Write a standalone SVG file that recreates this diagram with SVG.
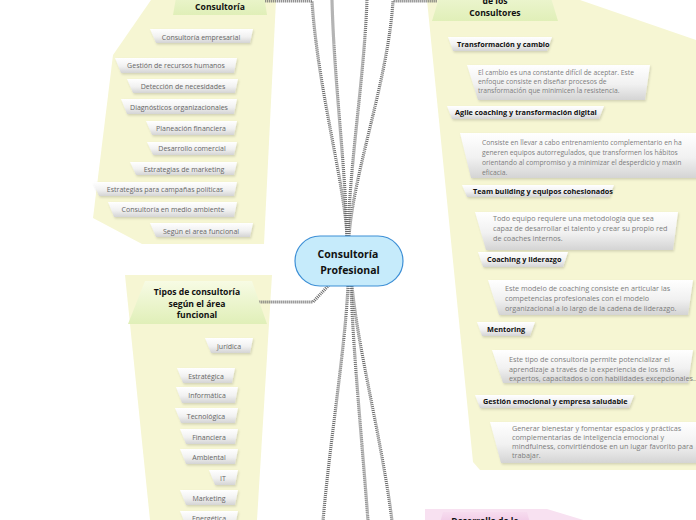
<svg xmlns="http://www.w3.org/2000/svg" width="696" height="520" viewBox="0 0 696 520">
<defs>
<linearGradient id="leafG" x1="0" y1="0" x2="0" y2="1"><stop offset="0" stop-color="#ffffff"/><stop offset="0.55" stop-color="#f1f1f1"/><stop offset="1" stop-color="#d4d4d4"/></linearGradient>
<linearGradient id="greenG" x1="0" y1="0" x2="0" y2="1"><stop offset="0" stop-color="#f7fbe4"/><stop offset="1" stop-color="#e0efb8"/></linearGradient>
<linearGradient id="pinkG" x1="0" y1="0" x2="0" y2="1"><stop offset="0" stop-color="#f7dcef"/><stop offset="1" stop-color="#ecc0e0"/></linearGradient>
<filter id="sh" x="-10%" y="-20%" width="120%" height="150%"><feDropShadow dx="1" dy="1.5" stdDeviation="0.8" flood-color="#000" flood-opacity="0.15"/></filter>
</defs>
<style>
.panel{fill:#f6f6d3}
.pink{fill:#f8e1f1}
.leaf{fill:url(#leafG);filter:url(#sh)}
.hdr{fill:url(#greenG)}
.lt{font-family:"Open Sans","Noto Sans",sans-serif;font-size:7px;fill:#666;text-anchor:middle}
.rh{font-family:"Open Sans","Noto Sans",sans-serif;font-size:7.3px;font-weight:bold;fill:#111}
.dt{font-family:"Open Sans","Noto Sans",sans-serif;font-size:6.75px;fill:#7d7d7d}
.dt2{font-family:"Open Sans","Noto Sans",sans-serif;font-size:7.25px;fill:#7d7d7d}
.ht{font-family:"Open Sans","Noto Sans",sans-serif;font-size:8.6px;font-weight:bold;fill:#111;text-anchor:middle}
.ct{font-family:"Open Sans","Noto Sans",sans-serif;font-size:10.5px;font-weight:bold;fill:#111;text-anchor:middle}
.con{fill:none;stroke:#6a6a6a;stroke-width:3.2;stroke-dasharray:1 1}
</style>

<!-- panels -->
<polygon class="panel" points="151,0 276,0 264,244 142,244 93,218 113,55"/>
<polygon class="panel" points="125,275 272,275 257,520 150,520"/>
<polygon class="panel" points="427,0 580,0 696,40 696,470 480,470 473,462"/>
<polygon class="pink" points="425,509 547,509 590,522 425,522"/>

<!-- connectors -->
<g id="connectors">
<path class="con" d="M347,236 C344,180 318,90 312,1 L265,1"/>
<path class="con" d="M347,236 C345,160 334,80 332,0"/>
<path class="con" d="M348,236 C350,160 364,80 367,0"/>
<path class="con" d="M349,236 C354,170 388,80 393,1 L437,1"/>
<path class="con" d="M329,285 L313,302 L258,302"/>
<path class="con" d="M348,286 C345,350 330,440 323,521"/>
<path class="con" d="M351,286 C353,350 362,440 368,521"/>
<path class="con" d="M352,286 C358,350 382,440 392,521"/>
</g>

<!-- central -->
<g id="center">
<rect x="295" y="236" width="108" height="50" rx="25" fill="#c6ebfb" stroke="#3d8fd6" stroke-width="1.2"/>
<text class="ct" x="348" y="258">Consultoría</text>
<text class="ct" x="350" y="274">Profesional</text>
</g>

<!-- left top branch -->
<g id="consultoria">
<polygon class="hdr" points="180,-25 261,-25 267,15 173,15"/>
<text class="ht" x="220" y="9.5">Consultoría</text>
</g>
<g id="l1"><polygon class="leaf" points="150,29 253,29 250,43 156,43"/><text class="lt" x="201" y="39.5">Consultoría empresarial</text></g>
<g id="l2"><polygon class="leaf" points="115,58 237,58 234,73 121,73"/><text class="lt" x="176" y="68">Gestión de recursos humanos</text></g>
<g id="l3"><polygon class="leaf" points="127,79 238,79 235,93 133,93"/><text class="lt" x="183" y="88.5">Detección de necesidades</text></g>
<g id="l4"><polygon class="leaf" points="121,99 237,99 234,114 127,114"/><text class="lt" x="179" y="109.5">Diagnósticos organizacionales</text></g>
<g id="l5"><polygon class="leaf" points="146,121 237,121 234,135 152,135"/><text class="lt" x="191" y="130.5">Planeación financiera</text></g>
<g id="l6"><polygon class="leaf" points="147,142 237,142 234,155 153,155"/><text class="lt" x="192" y="150.5">Desarrollo comercial</text></g>
<g id="l7"><polygon class="leaf" points="130,162 237,162 234,175 136,175"/><text class="lt" x="184" y="171.5">Estrategias de marketing</text></g>
<g id="l8"><polygon class="leaf" points="93,182 237,182 234,196 99,196"/><text class="lt" x="165" y="191.5">Estrategias para campañas políticas</text></g>
<g id="l9"><polygon class="leaf" points="108,202 237,202 234,217 114,217"/><text class="lt" x="173" y="212">Consultoría en medio ambiente</text></g>
<g id="l10"><polygon class="leaf" points="150,223 253,223 250,237 156,237"/><text class="lt" x="201" y="233.5">Según el area funcional</text></g>

<!-- tipos branch -->
<g id="tipos">
<polygon class="hdr" points="145,281 252,281 267,324 128,324"/>
<text class="ht" x="197" y="295">Tipos de consultoría</text>
<text class="ht" x="197" y="306.5">según el área</text>
<text class="ht" x="197" y="318">funcional</text>
</g>
<g id="t1"><polygon class="leaf" points="205,338 253,338 250,353 211,353"/><text class="lt" x="229" y="348.5">Jurídica</text></g>
<g id="t2"><polygon class="leaf" points="177,368 235,368 232,383 183,383"/><text class="lt" x="206" y="378.5">Estratégica</text></g>
<g id="t3"><polygon class="leaf" points="176,387 238,387 235,403 182,403"/><text class="lt" x="207" y="397.5">Informática</text></g>
<g id="t4"><polygon class="leaf" points="175,408 238,408 235,423 181,423"/><text class="lt" x="206" y="418.5">Tecnológica</text></g>
<g id="t5"><polygon class="leaf" points="180,429 238,429 235,444 186,444"/><text class="lt" x="209" y="439.5">Financiera</text></g>
<g id="t6"><polygon class="leaf" points="180,449 238,449 235,464 186,464"/><text class="lt" x="209" y="459.5">Ambiental</text></g>
<g id="t7"><polygon class="leaf" points="209,470 238,470 235,485 215,485"/><text class="lt" x="223" y="480.5">IT</text></g>
<g id="t8"><polygon class="leaf" points="180,490 238,490 235,505 186,505"/><text class="lt" x="209" y="500.5">Marketing</text></g>
<g id="t9"><polygon class="leaf" points="180,511 238,511 235,526 186,526"/><text class="lt" x="209" y="521">Energética</text></g>

<!-- right branch -->
<g id="consultores">
<polygon class="hdr" points="446,-25 544,-25 558,21 432,21"/>
<text class="ht" x="495" y="3.5">de los</text>
<text class="ht" x="495" y="15.5">Consultores</text>
</g>
<g id="r1"><polygon class="leaf" points="448,37 552,37 547,51 453,51"/><text class="rh" x="457" y="46.5">Transformación y cambio</text></g>
<g id="r1d"><polygon class="leaf" points="467,65 650,65 645,100 478,100"/>
<text class="dt" x="478" y="74.5">El cambio es una constante difícil de aceptar.  Este</text>
<text class="dt" x="478" y="84">enfoque consiste en diseñar procesos de</text>
<text class="dt" x="478" y="93">transformación que minimicen la resistencia.</text></g>
<g id="r2"><polygon class="leaf" points="447,106 604,106 599,119 452,119"/><text class="rh" x="455" y="115">Agile coaching y transformación digital</text></g>
<g id="r2d"><polygon class="leaf" points="460,133 705,133 700,178 471,178"/>
<text class="dt" x="482" y="144.5">Consiste en llevar a cabo entrenamiento complementario en ha</text>
<text class="dt" x="482" y="155">generen equipos autorregulados, que transformen los hábitos</text>
<text class="dt" x="482" y="165">orientando al compromiso y a minimizar el desperdicio y maxin</text>
<text class="dt" x="482" y="174.5">eficacia.</text></g>
<g id="r3"><polygon class="leaf" points="462,185 614,185 609,197 467,197"/><text class="rh" x="473" y="193.5">Team building y equipos cohesionados</text></g>
<g id="r3d"><polygon class="leaf" points="475,212 678,212 673,250 486,250"/>
<text class="dt2" x="493" y="220.5">Todo equipo requiere una metodología que sea</text>
<text class="dt2" x="493" y="231">capaz de desarrollar el talento y crear su propio red</text>
<text class="dt2" x="493" y="240.5">de coaches internos.</text></g>
<g id="r4"><polygon class="leaf" points="478,252 568,252 563,267 483,267"/><text class="rh" x="487" y="262">Coaching y liderazgo</text></g>
<g id="r4d"><polygon class="leaf" points="488,280 693,280 688,315 499,315"/>
<text class="dt2" x="505" y="291">Este modelo de coaching consiste en articular las</text>
<text class="dt2" x="505" y="301">competencias profesionales con el modelo</text>
<text class="dt2" x="505" y="310.5">organizacional a lo largo de la cadena de liderazgo.</text></g>
<g id="r5"><polygon class="leaf" points="477,322 535,322 530,336 482,336"/><text class="rh" x="487" y="331.5">Mentoring</text></g>
<g id="r5d"><polygon class="leaf" points="492,350 693,350 688,383 503,383"/>
<text class="dt2" x="509" y="361.5">Este tipo de consultoría permite potencializar el</text>
<text class="dt2" x="509" y="371.5">aprendizaje a través de la experiencia de los más</text>
<text class="dt2" x="509" y="380.5">expertos, capacitados o con habilidades excepcionales..</text></g>
<g id="r6"><polygon class="leaf" points="475,395 634,395 629,408 480,408"/><text class="rh" x="483" y="404">Gestión emocional y empresa saludable</text></g>
<g id="r6d"><polygon class="leaf" points="490,422 705,422 700,463 501,463"/>
<text class="dt2" x="512" y="430.5">Generar bienestar y fomentar espacios y prácticas</text>
<text class="dt2" x="512" y="440">complementarias de inteligencia emocional y</text>
<text class="dt2" x="512" y="449">mindfulness, convirtiéndose en un lugar favorito para</text>
<text class="dt2" x="512" y="458">trabajar.</text></g>

<!-- pink branch -->
<g id="desarrollo">
<polygon points="443,512 527,512 532,530 438,530" fill="url(#pinkG)"/>
<text class="ht" x="485" y="523.5">Desarrollo de la</text>
</g>
</svg>
